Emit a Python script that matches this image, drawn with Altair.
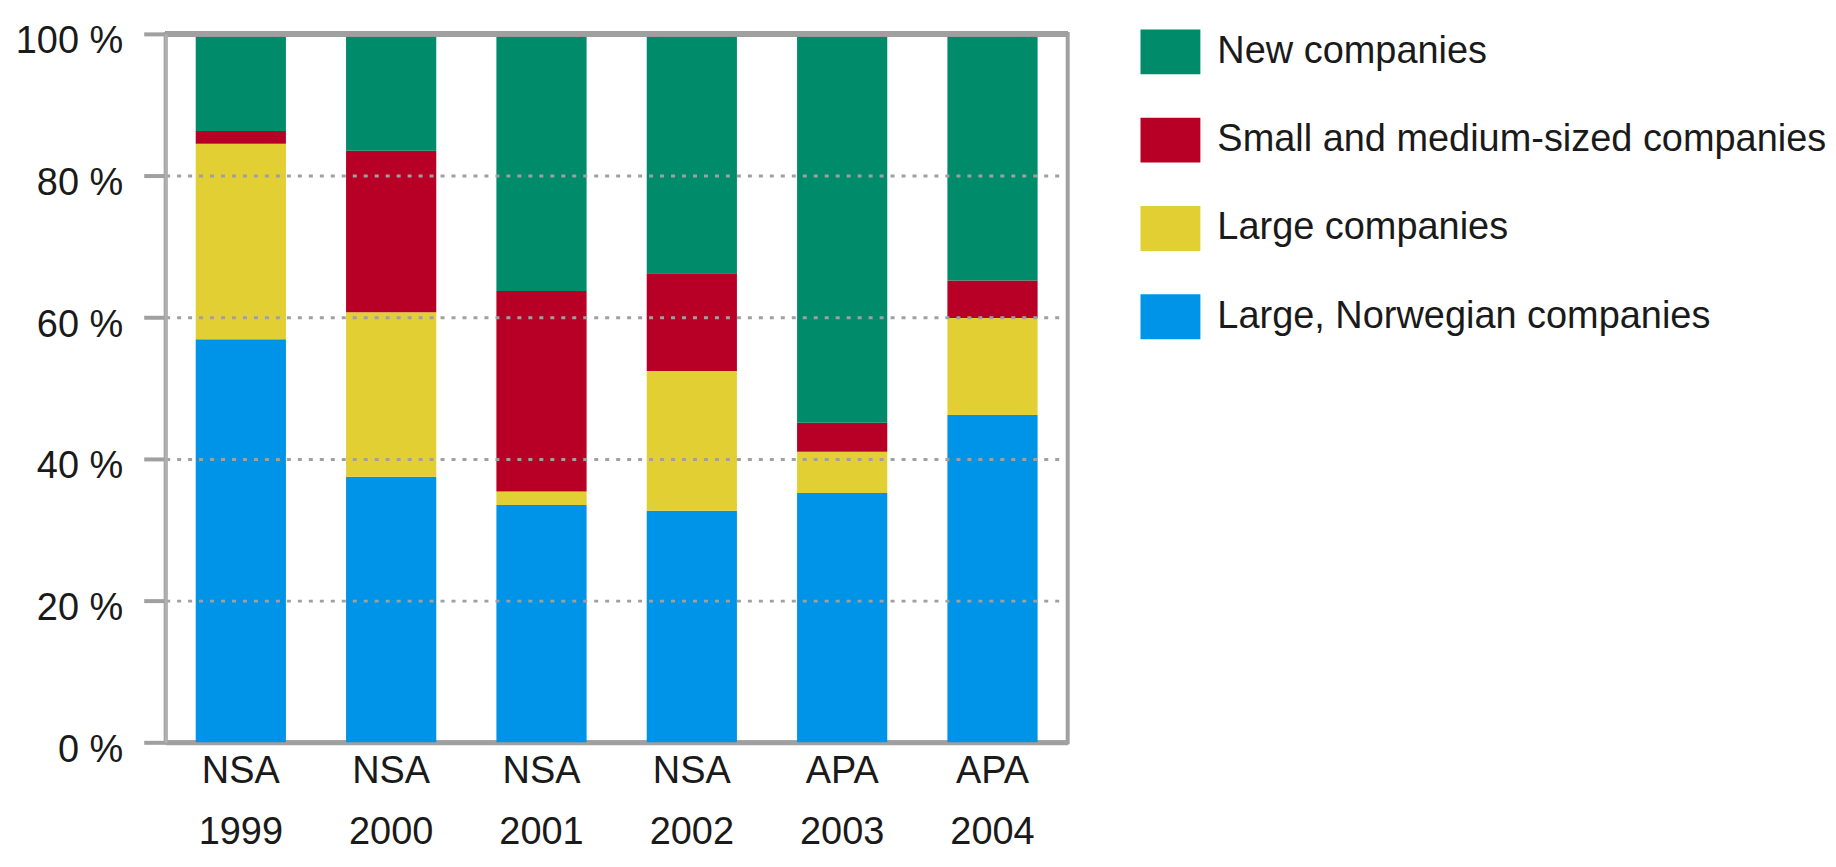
import altair as alt
import pandas as pd

categories = ["NSA 1999", "NSA 2000", "NSA 2001", "NSA 2002", "APA 2003", "APA 2004"]
series = ["New companies", "Small and medium-sized companies", "Large companies", "Large, Norwegian companies"]
colors = ["#008B6B", "#B80026", "#E2CF34", "#0094E8"]

large_norwegian = [56.9, 37.5, 33.5, 32.7, 35.2, 46.2]
large = [27.6, 23.2, 1.9, 19.7, 5.8, 13.7]
small_medium = [1.8, 22.8, 28.3, 13.8, 4.1, 5.3]
new = [13.7, 16.5, 36.3, 33.8, 54.9, 34.8]

rows = []
for i, c in enumerate(categories):
    for rank, (s, vals) in enumerate([
        ("Large, Norwegian companies", large_norwegian),
        ("Large companies", large),
        ("Small and medium-sized companies", small_medium),
        ("New companies", new),
    ]):
        rows.append({"cat": c, "series": s, "value": vals[i], "rank": rank})
df = pd.DataFrame(rows)

FONT = "Liberation Sans, Arial, sans-serif"
GRAY = "#a0a0a0"

bars = alt.Chart(df).mark_bar().encode(
    x=alt.X("cat:N", sort=categories, scale=alt.Scale(paddingInner=0.4, paddingOuter=0.2),
            axis=alt.Axis(title=None, labelAngle=0, labelExpr="split(datum.label, ' ')",
                          ticks=False, domainColor=GRAY, domainWidth=5,
                          labelFont=FONT, labelFontSize=38, labelLineHeight=61,
                          labelPadding=10, labelColor="#1a1a1a")),
    y=alt.Y("value:Q", stack="zero", scale=alt.Scale(domain=[0, 100], nice=False),
            axis=alt.Axis(title=None, values=[0, 20, 40, 60, 80, 100],
                          labelExpr="datum.value + ' %'",
                          tickSize=22, tickWidth=4, tickColor=GRAY,
                          domainColor="#b0b0b0", domainWidth=3,
                          labelPadding=21, labelFont=FONT, labelFontSize=38,
                          labelColor="#1a1a1a", labelOffset=8,
                          grid=True, gridColor=GRAY, gridWidth=3, gridDash=[4, 7],
                          gridOpacity={"condition": {"test": "datum.value === 0 || datum.value === 100", "value": 0}, "value": 1},
                          zindex=1)),
    color=alt.Color("series:N", scale=alt.Scale(domain=series, range=colors),
                    legend=alt.Legend(title=None, orient="none", legendX=977, legendY=-12,
                                      symbolType="M-1,-0.75H1V0.75H-1Z", symbolSize=3600,
                                      symbolStrokeWidth=0, symbolOpacity=1,
                                      labelFont=FONT, labelFontSize=38,
                                      labelColor="#1a1a1a", labelOffset=17, rowPadding=35.5,
                                      padding=0, labelLimit=900)),
    order=alt.Order("rank:Q"),
)

toprule = alt.Chart(df).mark_rule(color=GRAY, strokeWidth=5, opacity=0.85).encode(
    y=alt.datum(100)
)

chart = alt.layer(bars, toprule).properties(
    width=904, height=710,
    padding={"left": 158, "top": 25, "right": 762, "bottom": 110},
    autosize=alt.AutoSizeParams(type="none"),
).configure_view(stroke=GRAY, strokeWidth=4)

chart.save("out.html", embed_options={"renderer": "svg", "actions": False})
